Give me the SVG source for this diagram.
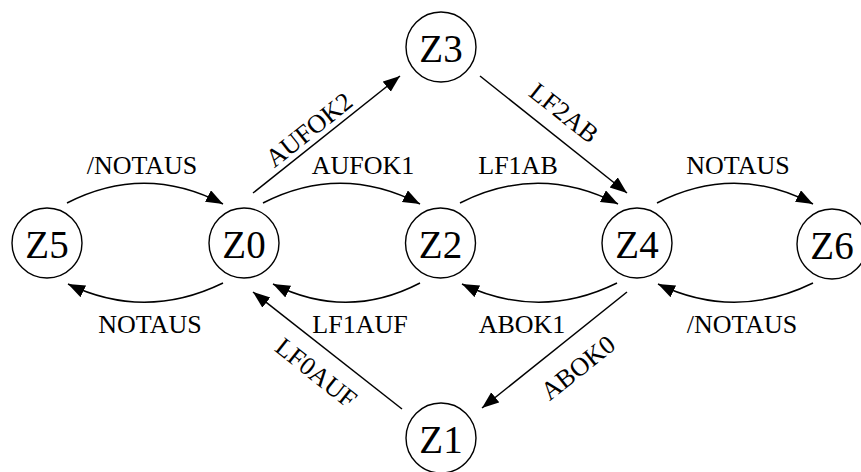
<svg xmlns="http://www.w3.org/2000/svg" width="861" height="472" viewBox="0 0 861 472">
<style>
  .nc { fill: #fff; stroke: #000; stroke-width: 1.4; }
  .nt { font-family: "Liberation Serif", "Times New Roman", Times, serif; font-size: 39px; text-anchor: middle; fill: #000; }
  .edge { fill: none; stroke: #000; stroke-width: 1.5; marker-end: url(#arrow); }
  .lbl { font-family: "Liberation Serif", "Times New Roman", Times, serif; font-size: 26px; text-anchor: middle; fill: #000; }
</style>
<defs>
  <marker id="arrow" markerUnits="userSpaceOnUse" markerWidth="18" markerHeight="14" refX="17" refY="6.5" orient="auto">
    <path d="M0,0 L17,6.5 L0,13 z" fill="#000"/>
  </marker>
</defs>
<rect width="861" height="472" fill="#fff"/>
<g id="connectors">
  <path class="edge" d="M67,203 Q145,163 223,204"/>
  <path class="edge" d="M223,283 Q145,321 68,284"/>
  <path class="edge" d="M263,203 Q341,163 420,204"/>
  <path class="edge" d="M420,283 Q347,321 273,284"/>
  <path class="edge" d="M460,203 Q539,163 618,204"/>
  <path class="edge" d="M617,283 Q540,321 462,284"/>
  <path class="edge" d="M657,203 Q735,163 813,204"/>
  <path class="edge" d="M813,283 Q735,321 658,284"/>
  <path class="edge" d="M253,193 L400,76"/>
  <path class="edge" d="M480,76 L627,193"/>
  <path class="edge" d="M627,292 L482,408"/>
  <path class="edge" d="M402,409 L253,292"/>
  <text class="lbl" x="142" y="174">/NOTAUS</text>
  <text class="lbl" x="363" y="174">AUFOK1</text>
  <text class="lbl" x="518" y="174">LF1AB</text>
  <text class="lbl" x="738" y="174">NOTAUS</text>
  <text class="lbl" x="150" y="333">NOTAUS</text>
  <text class="lbl" x="360" y="333">LF1AUF</text>
  <text class="lbl" x="522" y="333">ABOK1</text>
  <text class="lbl" x="742" y="333">/NOTAUS</text>
  <text class="lbl" transform="translate(309,130) rotate(-38.5)" y="8.5">AUFOK2</text>
  <text class="lbl" transform="translate(564,113) rotate(38.5)" y="8.5">LF2AB</text>
  <text class="lbl" transform="translate(316,373) rotate(38.5)" y="8.5">LF0AUF</text>
  <text class="lbl" transform="translate(578,368) rotate(-38.5)" y="8.5">ABOK0</text>
</g>
<g id="Z5"><circle class="nc" cx="47" cy="243" r="35"/><text class="nt" x="47" y="258">Z5</text></g>
<g id="Z0"><circle class="nc" cx="244" cy="243" r="35"/><text class="nt" x="244" y="258">Z0</text></g>
<g id="Z2"><circle class="nc" cx="440.5" cy="243" r="35"/><text class="nt" x="440.5" y="258">Z2</text></g>
<g id="Z4"><circle class="nc" cx="637" cy="243" r="35"/><text class="nt" x="637" y="258">Z4</text></g>
<g id="Z6"><circle class="nc" cx="832" cy="244" r="35"/><text class="nt" x="832" y="259">Z6</text></g>
<g id="Z3"><circle class="nc" cx="441" cy="47" r="35"/><text class="nt" x="441" y="62">Z3</text></g>
<g id="Z1"><circle class="nc" cx="441" cy="438" r="35"/><text class="nt" x="441" y="453">Z1</text></g>
</svg>
